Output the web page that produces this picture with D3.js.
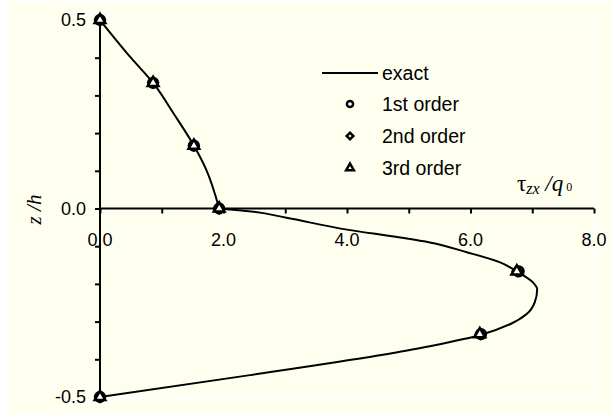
<!DOCTYPE html>
<meta charset="utf-8">
<script src="https://d3js.org/d3.v7.min.js"></script>
<style>
  body { margin: 0; background: #fff; }
  text { font-family: "Liberation Sans", Arial, sans-serif; }
</style>
<body>
<script>

var width = 611
var height = 416

// exact solution (tau_zx/q0, z/h); kink at the interface z = 0
var upperTau = [0.0, 0.5, 0.86, 1.2, 1.52, 1.72, 1.93]
var upperZ   = [0.5, 0.40, 0.333, 0.25, 0.167, 0.103, 0.0]
var lowerTau = [1.93, 2.45, 3.0, 4.0, 4.86, 5.34, 5.94, 6.48, 6.75, 7.01, 7.08, 7.04, 6.91, 6.64, 6.15, 5.67, 5.13, 4.5, 2.43, 0.0]
var lowerZ   = [0.0, -0.008, -0.024, -0.056, -0.077, -0.09, -0.116, -0.143, -0.167, -0.196, -0.214, -0.249, -0.28, -0.307, -0.336, -0.354, -0.372, -0.39, -0.442, -0.5]

// discrete solutions
var orderZ = [0.5, 1/3, 1/6, 0.0, -1/6, -1/3, -0.5]
var first  = [0.0, 0.86, 1.52, 1.93, 6.78, 6.17, 0.0]
var second = [0.0, 0.86, 1.52, 1.93, 6.76, 6.16, 0.0]
var third  = [0.0, 0.86, 1.52, 1.93, 6.75, 6.15, 0.0]

var xTicks = [0, 2, 4, 6, 8]
var yTicks = [-0.5, 0, 0.5]
var legendNames = ["exact", "1st order", "2nd order", "3rd order"]

var x = d3.scaleLinear().domain([0, 8]).range([100, 594])
var y = d3.scaleLinear().domain([-0.5, 0.5]).range([397, 20])

var svg = d3.select("body").append("svg")
            .attr("width", width)
            .attr("height", height)

svg.append("rect").attr("x", 9).attr("y", 2).attr("width", 602).attr("height", 412).attr("fill", "#fffff0")
svg.append("rect").attr("x", x(0)).attr("y", y(0.5)).attr("width", x(8) - x(0)).attr("height", y(-0.5) - y(0.5))
   .attr("fill", "none").attr("stroke", "#fff").attr("stroke-width", 2)

// x axis through z = 0
var xAxis = svg.append("g")
    .attr("transform", "translate(0," + y(0) + ")")
    .call(d3.axisBottom(x).tickValues(d3.range(0, 9, 1)).tickSize(5).tickFormat(""))
xAxis.select(".domain").attr("stroke-width", 2).attr("d", "M" + x(0) + ",0H" + x(8))
xAxis.selectAll(".tick line").attr("stroke-width", 2)

svg.append("g").selectAll("text").data(xTicks).join("text")
   .attr("x", d => x(d))
   .attr("y", y(0) + 37)
   .attr("text-anchor", "middle")
   .style("font-size", "18px")
   .text(d => d.toFixed(1))

var yAxis = svg.append("g")
    .attr("transform", "translate(" + x(0) + ",0)")
    .call(d3.axisLeft(y).tickValues(d3.range(-5, 6).map(d => d / 10)).tickSize(5).tickFormat(""))
yAxis.select(".domain").attr("stroke-width", 2).attr("d", "M0," + y(0.5) + "V" + y(-0.5))
yAxis.selectAll(".tick line").attr("stroke-width", 2)

svg.append("g").selectAll("text").data(yTicks).join("text")
   .attr("x", x(0) - 14)
   .attr("y", d => y(d) + 6)
   .attr("text-anchor", "end")
   .style("font-size", "18px")
   .text(d => d.toFixed(1))

// axis titles
svg.append("text")
   .attr("transform", "translate(41," + (y(0) + 1) + ") rotate(-90)")
   .attr("text-anchor", "middle")
   .style("font-family", "'Liberation Serif', 'Times New Roman', serif")
   .style("font-style", "italic")
   .style("font-size", "21px")
   .text("z /h")

var tl = svg.append("text")
   .attr("x", 517).attr("y", 191)
   .style("font-family", "'Liberation Serif', 'Times New Roman', serif")
   .style("font-size", "23px")
tl.append("tspan").text("τ")
tl.append("tspan").style("font-style", "italic").style("font-size", "16px").attr("dy", 3).text("zx")
tl.append("tspan").style("font-style", "italic").attr("dy", -3).text(" /q")
tl.append("tspan").style("font-size", "12px").text(" 0")

// exact curve, two smooth pieces meeting at z = 0
var line = d3.line().x(d => x(d[0])).y(d => y(d[1])).curve(d3.curveMonotoneY)
var upper = upperTau.map((t, i) => [t, upperZ[i]])
var lower = lowerTau.map((t, i) => [t, lowerZ[i]])
svg.append("path")
   .attr("d", line(upper) + line(lower))
   .attr("fill", "none").attr("stroke", "#000").attr("stroke-width", 2)
   .attr("stroke-linejoin", "round")

function symbolAt(g, sx, sy, shape, size) {
  g.append("path")
   .attr("transform", "translate(" + sx + "," + sy + ")" + (shape === d3.symbolSquare ? " rotate(45)" : ""))
   .attr("d", d3.symbol().type(shape).size(size))
   .attr("fill", "#fff").attr("stroke", "#000").attr("stroke-width", 2.5)
}
function drawMarkers(vals, shape, size) {
  var g = svg.append("g")
  vals.forEach((d, i) => symbolAt(g, x(d), y(orderZ[i]), shape, size))
}
drawMarkers(first, d3.symbolCircle, 75)
drawMarkers(second, d3.symbolSquare, 45)
drawMarkers(third, d3.symbolTriangle, 50)

// legend
var lg = svg.append("g")
var ly = [73, 104, 136, 168]
lg.append("line").attr("x1", 322).attr("x2", 378).attr("y1", ly[0]).attr("y2", ly[0])
  .attr("stroke", "#000").attr("stroke-width", 2)
var shapes = [d3.symbolCircle, d3.symbolSquare, d3.symbolTriangle]
var sizes = [30, 22, 26]
shapes.forEach((s, i) => symbolAt(lg, 350, ly[i + 1], s, sizes[i]))
lg.selectAll("text").data(legendNames).join("text")
  .attr("x", 382).attr("y", (d, i) => ly[i] + 7)
  .style("font-size", "19.5px")
  .text(d => d)

</script>
</body>
